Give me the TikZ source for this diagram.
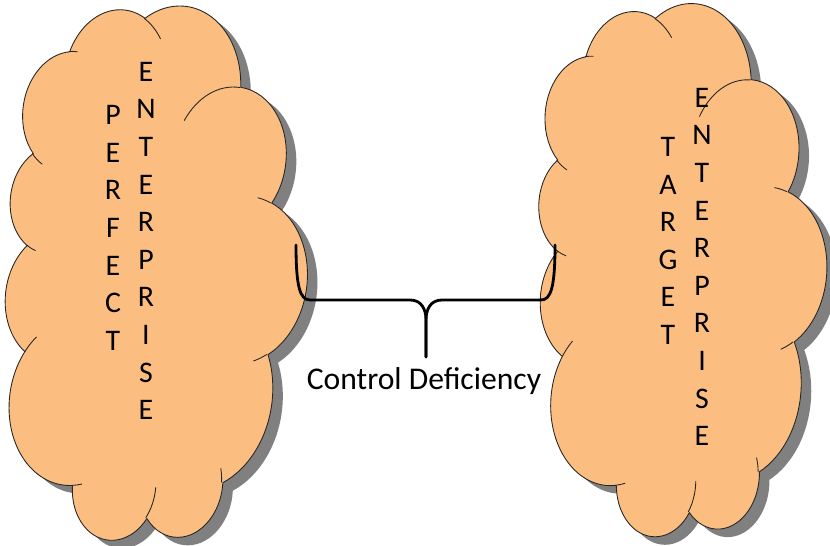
\documentclass[tikz,border=0pt]{standalone}
\usepackage{fontspec}
\setmainfont{Carlito}

\definecolor{cloudfill}{RGB}{252,190,128}

% One arcTo of a preset shape: x radius, y radius, start angle, sweep.
% The angles point at the ellipse (as in DrawingML), so turn them into
% the parametric angles that arc[] wants.
\newcommand\shapearc[4]{%
  arc[x radius=#1, y radius=#2,
      start angle={atan2((#1)*sin(#3),(#2)*cos(#3))},
      delta angle={mod(atan2((#1)*sin((#3)+(#4)),(#2)*cos((#3)+(#4)))%
        -atan2((#1)*sin(#3),(#2)*cos(#3))+720,360)}]}

% Cloud outline in a 432 x 432 frame (y pointing down).
\newcommand\cloudoutline{(39.00,143.70)
  \shapearc{67.53}{91.90}{-190.48748}{123.78053}
  \shapearc{53.33}{72.67}{-144.10238}{89.94523}
  \shapearc{43.65}{59.45}{-145.80792}{99.72302}
  \shapearc{48.57}{65.95}{-130.98607}{117.24173}
  \shapearc{53.33}{72.73}{-78.70888}{109.02692}
  \shapearc{67.75}{92.20}{-46.26725}{130.26900}
  \shapearc{57.85}{78.67}{0.62502}{114.03333}
  \shapearc{67.52}{92.15}{22.45160}{115.17255}
  \shapearc{77.20}{105.43}{66.24263}{75.71102}
  \shapearc{43.60}{59.18}{-274.94208}{146.73557}
  \shapearc{43.45}{59.45}{-246.82850}{152.51885}
  -- cycle}

% The short inner arcs where the puffs overlap.
\newcommand\cloudtails{%
  (46.93,261.77) \shapearc{43.45}{59.45}{86.742}{26.4295}
  (69.28,348.99) \shapearc{43.60}{59.18}{73.6105}{11.4475}
  (164.78,390.90) \shapearc{67.52}{92.15}{137.6242}{14.0811}
  (288.27,347.51) \shapearc{67.52}{92.15}{6.4533}{15.9984}
  (341.29,229.54) \shapearc{57.85}{78.67}{-70.2924}{70.9174}
  (417.98,153.54) \shapearc{53.33}{72.73}{30.3180}{27.7515}
  (383.24,54.26) \shapearc{48.57}{65.95}{-13.7443}{14.8589}
  (290.78,39.52) \shapearc{48.57}{65.95}{-149.1815}{18.1954}
  (221.41,47.20) \shapearc{43.65}{59.45}{-163.4943}{17.6864}
  (140.00,51.92) \shapearc{67.53}{91.90}{-66.7070}{12.3194}
  (41.27,157.89) \shapearc{67.53}{91.90}{157.6544}{11.8582}}

\begin{document}
\begin{tikzpicture}[x=0.02cm, y=-0.02cm,
    outline/.style={draw=black!85, line width=0.5pt},
    column/.style={align=center, inner sep=0pt,
      font=\fontsize{17}{21.4}\selectfont},
    bracket/.style={line width=1.6pt, line join=round, line cap=round}]
  \useasboundingbox (0,0) rectangle (830,546);
  % Two clouds: the preset cloud turned on its side, with a drop shadow.
  \foreach \cx/\cy/\turn/\sx/\sy in {153/274/82/1.247/0.708, 679.5/270.5/86/1.236/0.676} {
    \begin{scope}[shift={(\cx+10,\cy+8)}, rotate=\turn, xscale=\sx, yscale=\sy,
        shift={(-216,-216)}]
      \fill[black!50] \cloudoutline;
    \end{scope}
    \begin{scope}[shift={(\cx,\cy)}, rotate=\turn, xscale=\sx, yscale=\sy,
        shift={(-216,-216)}]
      \fill[cloudfill] \cloudoutline;
      \draw[outline] \cloudoutline;
      \draw[outline] \cloudtails;
    \end{scope}
  }
  % Words set one letter per line.
  \node[column] (perfect) at (113,228) {P\\E\\R\\F\\E\\C\\T};
  \node[column] (enterprise l) at (146,241) {E\\N\\T\\E\\R\\P\\R\\I\\S\\E};
  \node[column] (target) at (668,241) {T\\A\\R\\G\\E\\T};
  \node[column] (enterprise r) at (702,267) {E\\N\\T\\E\\R\\P\\R\\I\\S\\E};
  % Brace between the clouds.
  \coordinate (lhook) at (296,245);
  \coordinate (rhook) at (555,245);
  \coordinate (tip) at (426,357);
  \draw[bracket] (lhook) .. controls +(0,42) and +(-10,0) .. ++(14,55)
    -- ++(100,0) .. controls +(12,0) and +(0,-10) .. ++(16,20) -- (tip);
  \draw[bracket] (rhook) .. controls +(0,42) and +(10,0) .. ++(-14,55)
    -- ++(-99,0) .. controls +(-12,0) and +(0,-10) .. ++(-16,20) -- (tip);
  \node[anchor=base, font=\fontsize{18}{21}\selectfont] (deficiency)
    at (424,390) {Control Deficiency};
\end{tikzpicture}
\end{document}
